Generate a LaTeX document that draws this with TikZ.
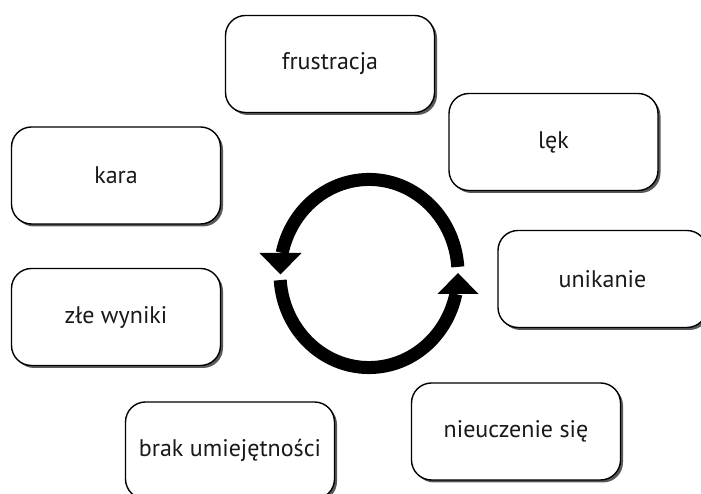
\documentclass[tikz,border=0pt]{standalone}
\usepackage{fontspec}
\setmainfont{PT Sans}
\usetikzlibrary{shadows}
\begin{document}
\begin{tikzpicture}[x=1pt,y=1pt,
  box/.style={draw=black, line width=1.4pt, fill=white, rounded corners=20pt,
    minimum width=209pt, minimum height=97pt, inner sep=0pt,
    font=\fontsize{24}{28}\selectfont, text=black!90,
    drop shadow={shadow xshift=2.5pt, shadow yshift=-2.5pt, opacity=0.65, fill=black}},
  cyc/.style={line width=13pt, black},
  tip/.style={fill=black, draw=none}]
\useasboundingbox (0,0) rectangle (701,494);
\fill[white] (0,0) rectangle (701,494);

\node[box] (frus) at (330,430) {frustracja};
\node[box] (lek) at (553.5,352) {lęk};
\node[box] (unik) at (602.5,215) {unikanie};
\node[box] (nieu) at (516,62.5) {nieuczenie się};
\node[box] (kara) at (116,318.5) {kara};
\node[box] (zle) at (116,177) {złe wyniki};
\node[box] (brak) at (230,43.5) {brak umiejętności};

% cycle arrows
\coordinate (c) at (369,220.5);
\coordinate (topstart) at (457.8,227.1);
\coordinate (botstart) at (280.2,213.9);
\draw[cyc] (topstart) arc[start angle=4, end angle=167.4, x radius=89, y radius=94];
\draw[cyc] (botstart) arc[start angle=184, end angle=347.4, x radius=89, y radius=94];
\coordinate (ltip) at (280.5,219.5);
\coordinate (rtip) at (458,221);
\fill[tip] (ltip) -- (259.5,241) -- (301.5,241) -- cycle;
\fill[tip] (rtip) -- (437.5,200) -- (478.5,200) -- cycle;
\end{tikzpicture}
\end{document}
